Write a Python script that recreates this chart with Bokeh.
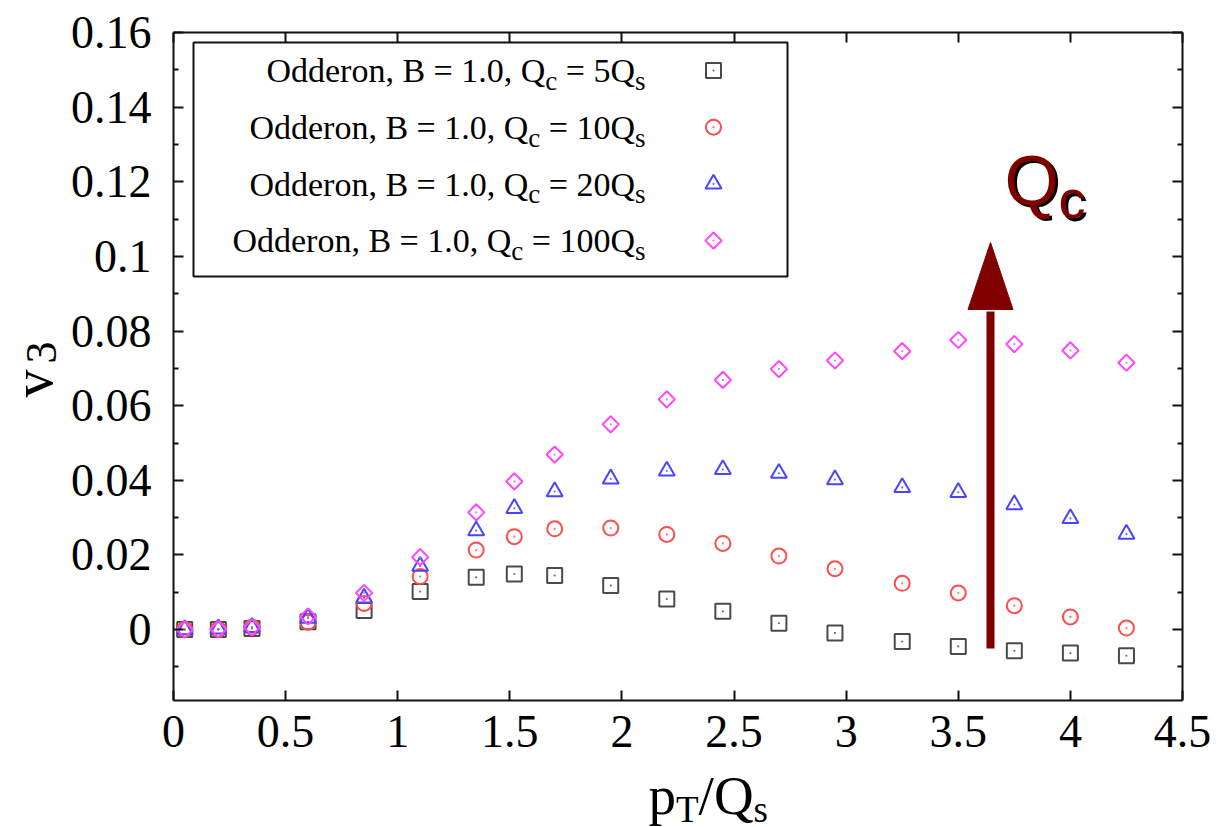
import math
from bokeh.plotting import figure
from bokeh.layouts import row, column
from bokeh.models import (Label, FixedTicker, NumeralTickFormatter, LinearAxis,
                          Range1d, CustomJSTickFormatter)
from bokeh.embed import file_html
from bokeh.resources import INLINE

# ---------------- data ----------------
pt_over_qs = [0.05, 0.2, 0.35, 0.6, 0.85, 1.1, 1.35, 1.52, 1.7, 1.95,
              2.2, 2.45, 2.7, 2.95, 3.25, 3.5, 3.75, 4.0, 4.25]
v3_qc5 = [0.0, 0.0, 0.0003, 0.0021, 0.0051, 0.0102, 0.0140, 0.0149, 0.0145, 0.0118,
          0.0082, 0.0049, 0.0017, -0.0009, -0.0032, -0.0045, -0.0057, -0.0063, -0.0070]
v3_qc10 = [0.0, 0.0, 0.0006, 0.0020, 0.0070, 0.0142, 0.0213, 0.0249, 0.0270, 0.0272,
           0.0255, 0.0231, 0.0197, 0.0163, 0.0124, 0.0098, 0.0064, 0.0034, 0.0004]
v3_qc20 = [0.0, 0.0002, 0.0006, 0.0031, 0.0085, 0.0170, 0.0265, 0.0325, 0.0370, 0.0404,
           0.0425, 0.0429, 0.0419, 0.0402, 0.0381, 0.0368, 0.0335, 0.0298, 0.0256]
v3_qc100 = [0.0, 0.0001, 0.0006, 0.0035, 0.0098, 0.0194, 0.0314, 0.0397, 0.0469, 0.0550,
            0.0617, 0.0669, 0.0698, 0.0721, 0.0746, 0.0776, 0.0765, 0.0748, 0.0715]
qc_multipliers = ["5", "10", "20", "100"]
x_ticks = [0, 0.5, 1, 1.5, 2, 2.5, 3, 3.5, 4, 4.5]
y_ticks = [0, 0.02, 0.04, 0.06, 0.08, 0.1, 0.12, 0.14, 0.16]
y_minor_ticks = [-0.01, 0.01, 0.03, 0.05, 0.07, 0.09, 0.11, 0.13, 0.15]
X_RANGE = (0, 4.5)
Y_RANGE = (-0.019, 0.16)

# ---------------- layout / style ----------------
W, H = 1223, 827
LEFT_W = 62            # strip holding the y-axis title
MAIN_H = 770           # main figure height; x-axis title strip below it
FL, FR, FT, FB = 173, 1182, 32, 700   # frame in page pixels
SERIF = "Liberation Serif"
SANS = "Liberation Sans"
DARKRED = "#800000"
BASE_SHIFT = 0.285     # label anchor sits this many em above the baseline

styles = [
    dict(data=v3_qc5, marker="square", color="#4a4a4a", size=15, angle=0.0),
    dict(data=v3_qc10, marker="circle", color="#ff4c4c", size=15, angle=0.0),
    dict(data=v3_qc20, marker="triangle", color="#4646ff", size=16, angle=0.0),
    dict(data=v3_qc100, marker="square", color="#ff46ff", size=11.5, angle=math.pi / 4),
]

# Times / Liberation Serif advance widths (1/1000 em)
TW = {' ': 250, 'O': 722, 'd': 500, 'e': 444, 'r': 333, 'o': 500, 'n': 500, ',': 250,
      'B': 667, '=': 564, '1': 500, '.': 250, '0': 500, 'Q': 722, 'c': 444, 's': 389,
      '5': 500, '2': 500, 'p': 500, 'T': 611, '/': 278, 'v': 500, '3': 500}


def tw(s, size):
    return sum(TW.get(ch, 500) for ch in s) / 1000.0 * size


def dx(px):
    return X_RANGE[0] + (px - FL) / (FR - FL) * (X_RANGE[1] - X_RANGE[0])


def dy(py):
    return Y_RANGE[0] + (FB - py) / (FB - FT) * (Y_RANGE[1] - Y_RANGE[0])


p = figure(width=W - LEFT_W, height=MAIN_H, output_backend="svg", toolbar_location=None,
           x_range=Range1d(*X_RANGE), y_range=Range1d(*Y_RANGE),
           min_border_left=FL - LEFT_W, min_border_right=W - FR,
           min_border_top=FT, min_border_bottom=MAIN_H - FB)
p.xgrid.visible = False
p.ygrid.visible = False
p.outline_line_color = None
p.background_fill_color = "white"
p.border_fill_color = "white"


def style_axis(ax, show_labels, minor):
    ax.axis_line_color = "#111111"
    ax.axis_line_width = 2
    ax.major_tick_in = 10
    ax.major_tick_out = 0
    ax.minor_tick_in = 5 if minor else 0
    ax.minor_tick_out = 0
    ax.major_tick_line_color = "#111111"
    ax.major_tick_line_width = 2
    ax.minor_tick_line_color = "#111111" if minor else None
    ax.minor_tick_line_width = 2
    if show_labels:
        ax.major_label_text_font = SERIF
        ax.major_label_text_font_size = "46px"
        ax.major_label_text_color = "black"
    else:
        ax.formatter = CustomJSTickFormatter(code="return ''")
        ax.major_label_text_font_size = "1px"
        ax.major_label_standoff = 0


xa = p.xaxis[0]
xa.ticker = FixedTicker(ticks=x_ticks, minor_ticks=[])
xa.formatter = NumeralTickFormatter(format="0.[0]")
style_axis(xa, True, False)
xa.major_label_standoff = 15

ya = p.yaxis[0]
ya.ticker = FixedTicker(ticks=y_ticks, minor_ticks=y_minor_ticks)
ya.formatter = NumeralTickFormatter(format="0.[00]")
style_axis(ya, True, True)
ya.major_label_standoff = 22

top = LinearAxis(ticker=FixedTicker(ticks=x_ticks, minor_ticks=[]))
style_axis(top, False, False)
p.add_layout(top, "above")
right = LinearAxis(ticker=FixedTicker(ticks=y_ticks, minor_ticks=y_minor_ticks))
style_axis(right, False, True)
p.add_layout(right, "right")


def add_markers(xs, ys, st):
    p.scatter(xs, ys, marker=st["marker"], size=st["size"], angle=st["angle"],
              line_color=st["color"], fill_color=None, line_width=2)
    p.scatter(xs, ys, marker="circle", size=2.2, line_color=None,
              fill_color=st["color"], fill_alpha=0.8)


# ---------------- data markers ----------------
for st in styles:
    add_markers(pt_over_qs, st["data"], st)

# ---------------- legend ----------------
LEG_L, LEG_R, LEG_T, LEG_B = 193, 787, 42, 276
p.quad(left=[dx(LEG_L)], right=[dx(LEG_R)], top=[dy(LEG_T)], bottom=[dy(LEG_B)],
       fill_color="white", line_color="#111111", line_width=2)

LEG_TEXT_END = 645
LEG_BASE0 = 80
LEG_STEP = 56.7
LEG_MARK_X = 713
LF, LS, LSUB = 34, 27, 8


def add_label(text, px, py, size, font=SERIF, color="black"):
    """px, py: page pixel of the text's start on its baseline."""
    ay = py - BASE_SHIFT * size
    p.add_layout(Label(x=px - FL, y=FB - ay, x_units="screen", y_units="screen",
                       text=text, text_font=font, text_font_size=f"{size}px",
                       text_color=color, text_baseline="alphabetic",
                       text_align="left"))


for i, (mult, st) in enumerate(zip(qc_multipliers, styles)):
    base = LEG_BASE0 + i * LEG_STEP
    m1 = "Odderon, B = 1.0, Q"
    s1 = "c"
    m2 = "= " + mult + "Q"
    s2 = "s"
    total = tw(m1, LF) + tw(s1, LS) + tw(" ", LF) + tw(m2, LF) + tw(s2, LS)
    x = LEG_TEXT_END - total
    add_label(m1, x, base, LF)
    x += tw(m1, LF)
    add_label(s1, x, base + LSUB, LS)
    x += tw(s1, LS) + tw(" ", LF)
    add_label(m2, x, base, LF)
    x += tw(m2, LF)
    add_label(s2, x, base + LSUB, LS)
    add_markers([dx(LEG_MARK_X)], [dy(base - 10)], st)

# ---------------- Q_c arrow annotation ----------------
ARROW_PX = 990
ARROW_BOTTOM_PY = 648
HEAD_BASE_PY = 309
HEAD_TIP_PY = 242
HEAD_HALF_W = 22.5
p.segment(x0=[dx(ARROW_PX)], y0=[dy(ARROW_BOTTOM_PY)], x1=[dx(ARROW_PX)],
          y1=[dy(HEAD_BASE_PY + 2)], line_color=DARKRED, line_width=8)
p.patch([dx(ARROW_PX - HEAD_HALF_W), dx(ARROW_PX + HEAD_HALF_W), dx(ARROW_PX)],
        [dy(HEAD_BASE_PY), dy(HEAD_BASE_PY), dy(HEAD_TIP_PY)],
        fill_color=DARKRED, line_color=DARKRED, line_width=1)

QF, QS = 70, 54
qx, qb = 1004, 200
for off, col in ((2.5, "black"), (0, DARKRED)):
    add_label("Q", qx + off, qb + off, QF, font=SANS, color=col)
    add_label("c", qx + 54 + off, qb + 14 + off, QS, font=SANS, color=col)


# ---------------- axis-title strips (data coords == page pixels) ----------------
def strip(w, h, x0, x1, y0, y1, bl, br):
    f = figure(width=w, height=h, output_backend="svg", toolbar_location=None,
               title=None, x_range=Range1d(x0, x1), y_range=Range1d(y0, y1),
               x_axis_location=None, y_axis_location=None, min_border=0,
               min_border_left=bl, min_border_right=br)
    f.xgrid.visible = False
    f.ygrid.visible = False
    f.outline_line_color = None
    f.background_fill_color = "white"
    f.border_fill_color = "white"
    return f


def strip_text(f, text, px, py, size, angle=0.0):
    """px, py: page pixel of the text's start on its baseline."""
    if angle:
        px = px - BASE_SHIFT * size
    else:
        py = py - BASE_SHIFT * size
    f.add_layout(Label(x=px, y=py, x_units="data", y_units="data",
                       text=text, text_font=SERIF, text_font_size=f"{size}px",
                       text_color="black", text_baseline="alphabetic",
                       text_align="left", angle=angle))


# x-axis title: p_T/Q_s  (frame of this strip lines up with the main frame)
xf = strip(W - LEFT_W, H - MAIN_H, FL, FR, H, MAIN_H, FL - LEFT_W, W - FR)
XF, XS, XSUB = 55, 37, 9
x0, xb = 648, 811
strip_text(xf, "p", x0, xb, XF)
x0 += tw("p", XF)
strip_text(xf, "T", x0, xb + XSUB, XS)
x0 += tw("T", XS)
strip_text(xf, "/Q", x0, xb, XF)
x0 += tw("/Q", XF)
strip_text(xf, "s", x0, xb + XSUB, XS)

# y-axis title: v_3 (rotated)
yf = strip(LEFT_W, H, 0, LEFT_W, H, 0, 0, 0)
YF, YS = 56, 44
strip_text(yf, "v", 48, 397, YF, angle=math.pi / 2)
strip_text(yf, "3", 54, 397 - tw("v", YF) - 6, YS, angle=math.pi / 2)

layout = row(yf, column(p, xf))
open("out.html", "w").write(file_html(layout, INLINE))
